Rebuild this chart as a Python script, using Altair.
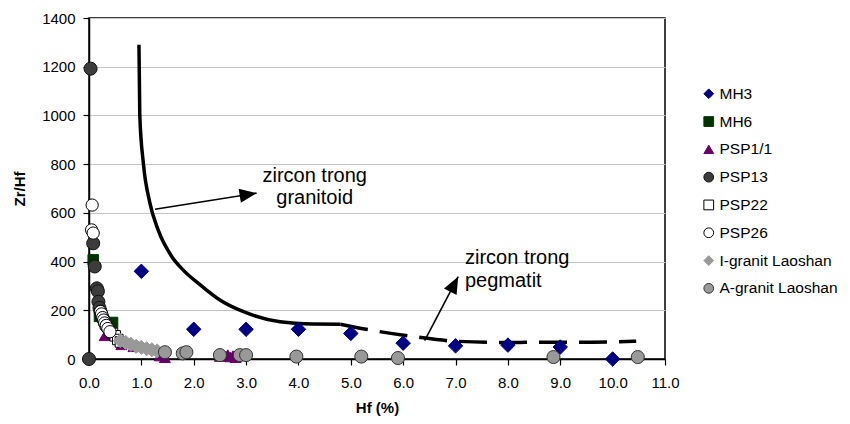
import math
import altair as alt
import pandas as pd

# ---------------- data ----------------
series_names = ["MH3", "MH6", "PSP1/1", "PSP13", "PSP22", "PSP26",
                "I-granit Laoshan", "A-granit Laoshan"]

mh3_hf = [1.0, 2.0, 3.0, 4.0, 5.0, 6.0, 7.0, 8.0, 9.0, 10.0]
mh3_zr = [360, 122, 122, 122, 105, 65, 54, 57, 49, 0]

mh6_hf = [0.08, 0.2, 0.45, 0.4]
mh6_zr = [407, 175, 150, 120]

psp11_hf = [0.3, 0.62, 0.85, 0.95, 1.35, 1.45, 2.5, 2.6, 2.65, 2.7, 2.75, 2.8]
psp11_zr = [95, 58, 50, 52, 12, 5, 10, 12, 18, 8, 14, 5]

psp13_hf = [0.03, 0.0, 0.08, 0.11, 0.15, 0.17, 0.18, 0.2, 0.22, 0.24, 0.27, 0.3, 0.33]
psp13_zr = [1192, 0, 475, 380, 290, 278, 235, 210, 195, 180, 165, 150, 135]

psp22_hf = [0.45, 0.5, 0.55, 0.6]
psp22_zr = [105, 95, 80, 70]

psp26_hf = [0.06, 0.05, 0.08, 0.22, 0.24, 0.26, 0.28, 0.3, 0.33, 0.36, 0.4]
psp26_zr = [632, 530, 517, 195, 185, 170, 160, 148, 138, 125, 112]

igr_hf = [0.6, 0.7, 0.8, 0.9, 1.0, 1.1, 1.2, 1.3]
igr_zr = [75, 68, 60, 52, 48, 42, 38, 33]

agr_hf = [1.45, 1.79, 1.86, 2.5, 2.88, 3.0, 3.96, 5.2, 5.9, 8.87, 10.48]
agr_zr = [28, 23, 28, 16, 16, 16, 10, 10, 4, 8, 8]

# curves
solid_hf = [0.954, 0.97, 1.04, 1.16, 1.32, 1.58, 1.8, 2.12, 2.5, 3.0, 3.65, 4.28, 4.8]
solid_zr = [1290, 1000, 800, 643, 530, 421, 365, 305, 242, 190, 153, 144, 143]
dash_hf = [4.8, 5.4, 6.2, 7.0, 8.0, 9.0, 9.6, 10.45]
dash_zr = [143, 118, 92, 73, 68, 69, 69, 73]

# annotations
label_text = ["zircon trong", "granitoid", "zircon trong", "pegmatit"]
label_hf = [4.31, 4.31, 7.18, 7.18]
label_zr = [752, 660, 415, 320]
label_align = ["center", "center", "left", "left"]

arrow_hf = [1.26, 6.41]
arrow_zr = [615, 75]
arrow_hf2 = [3.2, 7.05]
arrow_zr2 = [681, 338]

# ---------------- styles ----------------
shapes = ["diamond", "square", "triangle-up", "circle", "square", "circle", "diamond", "circle"]
fills = ["#000080", "#003300", "#660066", "#3c3c3c", "#ffffff", "#ffffff", "#999999", "#999999"]
strokes = ["#000080", "#003300", "#660066", "#111111", "#000000", "#000000", "#999999", "#333333"]
sizes = [210, 110, 120, 170, 110, 150, 200, 170]

W, H = 576, 341
XMAX, YMAX = 11, 1400
FONT = "Liberation Sans"

# ---------------- tables ----------------
all_hf = [mh3_hf, mh6_hf, psp11_hf, psp13_hf, psp22_hf, psp26_hf, igr_hf, agr_hf]
all_zr = [mh3_zr, mh6_zr, psp11_zr, psp13_zr, psp22_zr, psp26_zr, igr_zr, agr_zr]
rows = []
for name, sz, xs_, ys_ in zip(series_names, sizes, all_hf, all_zr):
    for a, b in zip(xs_, ys_):
        rows.append({"series": name, "sz": sz, "hf": a, "zr": b})
pts = pd.DataFrame(rows)

solid_df = pd.DataFrame({"hf": solid_hf, "zr": solid_zr})
dash_df = pd.DataFrame({"hf": dash_hf, "zr": dash_zr})
lab_df = pd.DataFrame({"t": label_text, "hf": label_hf, "zr": label_zr, "al": label_align})

angles = []
for a, b, c, d in zip(arrow_hf, arrow_zr, arrow_hf2, arrow_zr2):
    dx = (c - a) * W / XMAX
    dy = (d - b) * H / YMAX
    angles.append(math.degrees(math.atan2(dx, dy)))
arr_df = pd.DataFrame({"hf": arrow_hf, "zr": arrow_zr, "hf2": arrow_hf2,
                       "zr2": arrow_zr2, "ang": angles})

xs = alt.Scale(domain=[0, XMAX], nice=False, zero=False)
ys = alt.Scale(domain=[0, YMAX], nice=False)

xaxis = alt.Axis(title="Hf (%)", values=list(range(0, 12)), format=".1f", grid=False,
                 tickSize=6, labelPadding=10, titlePadding=10, labelFontSize=15,
                 titleFontSize=15, titleFontWeight="bold", labelFlush=False)
yaxis = alt.Axis(title="Zr/Hf", values=list(range(0, 1600, 200)), format="d", grid=True,
                 gridColor="#c4c4c4", tickSize=6, labelPadding=8, titlePadding=14,
                 labelFontSize=15, titleFontSize=15, titleFontWeight="bold", labelFlush=False)

X = alt.X("hf:Q", scale=xs, axis=xaxis)
Y = alt.Y("zr:Q", scale=ys, axis=yaxis)

solid = alt.Chart(solid_df).mark_line(color="black", strokeWidth=3.5, interpolate="monotone").encode(
    x=X, y=Y)
dashed = alt.Chart(dash_df).mark_line(color="black", strokeWidth=3.5, strokeDash=[28, 12],
                                      interpolate="monotone").encode(
    x=alt.X("hf:Q", scale=xs), y=alt.Y("zr:Q", scale=ys))

legend = alt.Legend(title=None, orient="none", legendX=612, legendY=68, symbolSize=95,
                    labelFontSize=15.5, labelFont=FONT, rowPadding=10.8, labelOffset=3,
                    symbolStrokeWidth=1, padding=0, labelLimit=300)

points = alt.Chart(pts).mark_point(filled=True, opacity=1, strokeWidth=1).encode(
    x=alt.X("hf:Q", scale=xs),
    y=alt.Y("zr:Q", scale=ys),
    fill=alt.Fill("series:N", scale=alt.Scale(domain=series_names, range=fills), legend=legend),
    stroke=alt.Stroke("series:N", scale=alt.Scale(domain=series_names, range=strokes), legend=legend),
    shape=alt.Shape("series:N", scale=alt.Scale(domain=series_names, range=shapes), legend=legend),
    size=alt.Size("sz:Q", scale=None),
)

rules = alt.Chart(arr_df).mark_rule(color="black", strokeWidth=1.6).encode(
    x=alt.X("hf:Q", scale=xs), y=alt.Y("zr:Q", scale=ys), x2="hf2:Q", y2="zr2:Q")
heads = alt.Chart(arr_df).mark_point(
    shape="M0,0L-0.42,1L0.42,1Z", filled=True, color="black", opacity=1, size=1156,
    strokeWidth=0).encode(
    x=alt.X("hf2:Q", scale=xs), y=alt.Y("zr2:Q", scale=ys), angle=alt.Angle("ang:Q", scale=None))

texts_c = alt.Chart(lab_df[lab_df.al == "center"]).mark_text(
    font=FONT, fontSize=20, align="center", baseline="middle", color="black").encode(
    x=alt.X("hf:Q", scale=xs), y=alt.Y("zr:Q", scale=ys), text="t:N")
texts_l = alt.Chart(lab_df[lab_df.al == "left"]).mark_text(
    font=FONT, fontSize=20, align="left", baseline="middle", color="black").encode(
    x=alt.X("hf:Q", scale=xs), y=alt.Y("zr:Q", scale=ys), text="t:N")

chart = alt.layer(solid, dashed, rules, heads, points, texts_c, texts_l).properties(
    width=W, height=H,
    autosize=alt.AutoSizeParams(type="none"),
    padding={"left": 81, "top": 10, "right": 177, "bottom": 57},
).configure(font=FONT).configure_axis(
    domainColor="black", domainWidth=1.5, tickColor="black", tickWidth=1.2,
    labelColor="black", titleColor="black", labelFont=FONT, titleFont=FONT,
).configure_view(stroke="black", strokeWidth=1.5)

chart.save("out.html", embed_options={"renderer": "svg", "actions": False})
